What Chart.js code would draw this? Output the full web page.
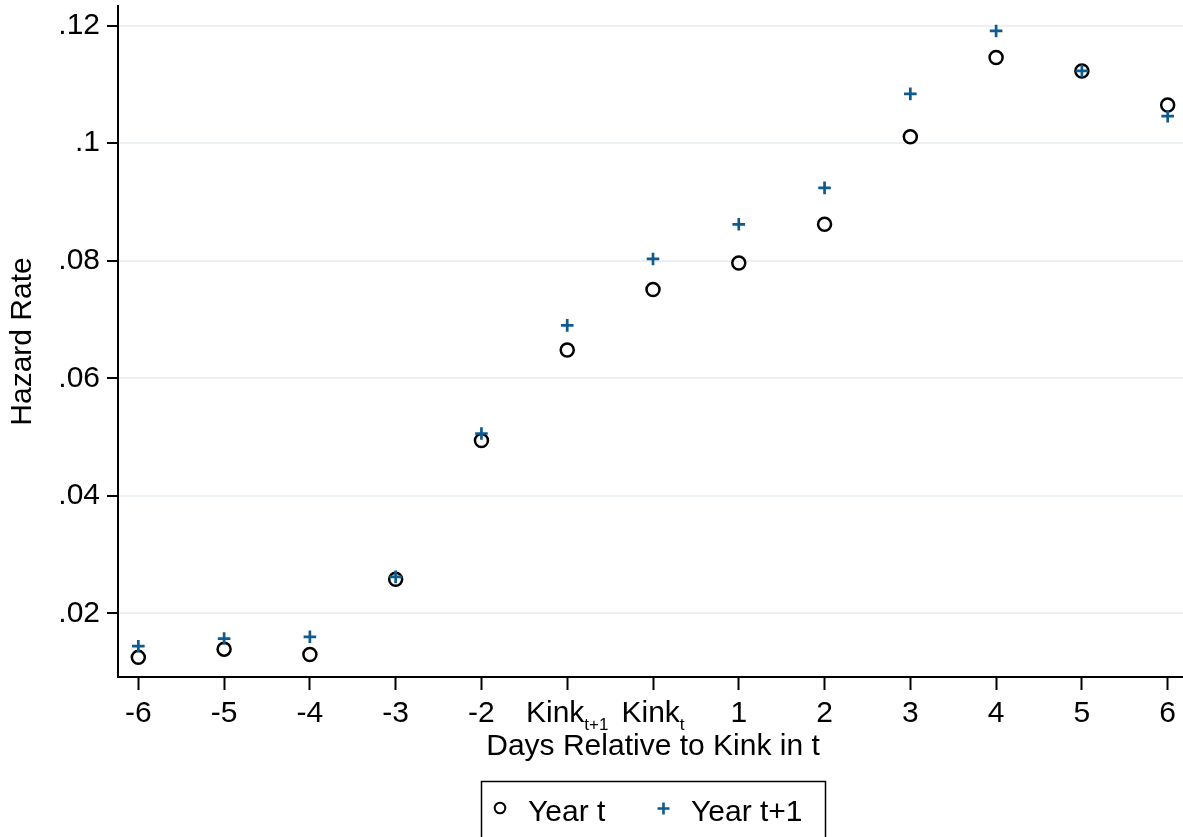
<!DOCTYPE html>
<html>
<head>
<meta charset="utf-8">
<script src="https://cdn.jsdelivr.net/npm/chart.js@4"></script>
<style>
    body { margin: 0; background: #fff; overflow: hidden; }
    #wrap { width: 1190px; height: 837px; }
</style>
</head>
<body>
<div id="wrap"><canvas id="hazardChart" width="1190" height="837"></canvas></div>
<script>
// --- DATA ---
const categories = ['-6', '-5', '-4', '-3', '-2', 'Kink_{t+1}', 'Kink_{t}', '1', '2', '3', '4', '5', '6'];
const yearT  = [0.0125, 0.0139, 0.0130, 0.0258, 0.0494, 0.0648, 0.0751, 0.0796, 0.0862, 0.1011, 0.1146, 0.1123, 0.1065];
const yearT1 = [0.0144, 0.0157, 0.0160, 0.0262, 0.0506, 0.0690, 0.0803, 0.0862, 0.0924, 0.1084, 0.1191, 0.1123, 0.1046];
const yTicks = [0.02, 0.04, 0.06, 0.08, 0.10, 0.12];

const FONT = '"Liberation Sans", Arial, Helvetica, sans-serif';
const PLUS_COLOR = '#0f5b8e';

// --- x tick labels, with subscripts for the kink labels ---
const xLabelsPlugin = {
    id: 'xLabels',
    afterDraw(chart) {
        const ctx = chart.ctx;
        const xs = chart.scales.x;
        ctx.save();
        ctx.fillStyle = '#000';
        ctx.textBaseline = 'alphabetic';
        ctx.textAlign = 'left';
        categories.forEach((label, i) => {
            const m = label.match(/^(.*)_\{(.*)\}$/);
            const main = m ? m[1] : label;
            const sub = m ? m[2] : '';
            ctx.font = '30px ' + FONT;
            const w1 = ctx.measureText(main).width;
            ctx.font = '17px ' + FONT;
            const w2 = sub ? ctx.measureText(sub).width : 0;
            const start = xs.getPixelForValue(i) - (w1 + w2) / 2;
            ctx.font = '30px ' + FONT;
            ctx.fillText(main, start, 722);
            if (sub) {
                ctx.font = '17px ' + FONT;
                ctx.fillText(sub, start + w1, 730);
            }
        });
        ctx.restore();
    }
};

// --- boxed legend under the axis title ---
const boxLegendPlugin = {
    id: 'boxLegend',
    afterDraw(chart) {
        const ctx = chart.ctx;
        const ds = chart.data.datasets;
        ctx.save();
        ctx.strokeStyle = '#000';
        ctx.lineWidth = 1.5;
        ctx.strokeRect(481.5, 781.5, 344, 120);

        // circle marker
        ctx.lineWidth = 2;
        ctx.strokeStyle = ds[1].borderColor;
        ctx.beginPath();
        ctx.arc(500, 808, 5.3, 0, Math.PI * 2);
        ctx.stroke();

        // plus marker
        ctx.strokeStyle = ds[0].borderColor;
        ctx.lineWidth = 2.6;
        ctx.beginPath();
        ctx.moveTo(663.5 - 6, 808.5); ctx.lineTo(663.5 + 6, 808.5);
        ctx.moveTo(663.5, 808.5 - 6); ctx.lineTo(663.5, 808.5 + 6);
        ctx.stroke();

        ctx.fillStyle = '#000';
        ctx.font = '30px ' + FONT;
        ctx.textBaseline = 'alphabetic';
        ctx.fillText(ds[1].label, 528, 821);
        ctx.fillText(ds[0].label, 691, 821);
        ctx.restore();
    }
};

const ctx = document.getElementById('hazardChart').getContext('2d');
new Chart(ctx, {
    type: 'scatter',
    data: {
        datasets: [
            {
                label: 'Year t+1',
                data: yearT1.map((v, i) => ({ x: i, y: v })),
                pointStyle: 'cross',
                pointRadius: 6.3,
                pointBorderWidth: 2.7,
                borderColor: PLUS_COLOR,
                backgroundColor: PLUS_COLOR,
                order: 0
            },
            {
                label: 'Year t',
                data: yearT.map((v, i) => ({ x: i, y: v })),
                pointStyle: 'circle',
                pointRadius: 6.5,
                pointBorderWidth: 2.5,
                borderColor: '#000',
                backgroundColor: 'rgba(0,0,0,0)',
                order: 1
            }
        ]
    },
    options: {
        responsive: false,
        animation: false,
        events: [],
        layout: { autoPadding: false, padding: { top: 6, left: 0, right: 2, bottom: 0 } },
        plugins: { legend: { display: false }, tooltip: { enabled: false } },
        scales: {
            x: {
                type: 'linear',
                min: -0.237,
                max: 12.237,
                afterBuildTicks: s => { s.ticks = categories.map((c, i) => ({ value: i })); },
                afterFit: s => { s.height = 160; s.paddingLeft = 0; s.paddingRight = 0; },
                ticks: { callback: () => '', font: { size: 30, family: FONT } },
                grid: { drawOnChartArea: false, drawTicks: true, tickLength: 13, tickColor: '#000', tickWidth: 2 },
                border: { color: '#000', width: 2 },
                title: {
                    display: true,
                    text: 'Days Relative to Kink in t',
                    color: '#000',
                    font: { size: 30, family: FONT, lineHeight: 1.2 },
                    padding: { top: 0, bottom: 72.7 }
                }
            },
            y: {
                min: 0.00916,
                max: 0.12335,
                afterBuildTicks: s => { s.ticks = yTicks.map(v => ({ value: v })); },
                afterFit: s => { s.width = 118; s.paddingTop = 0; s.paddingBottom = 0; },
                ticks: {
                    color: '#000',
                    padding: 7,
                    font: { size: 30, family: FONT },
                    callback: v => String(+v.toFixed(2)).replace(/^0\./, '.')
                },
                grid: { color: '#eaf0f3', lineWidth: 2, tickLength: 11, tickColor: '#000', tickWidth: 2 },
                border: { color: '#000', width: 2 },
                title: {
                    display: true,
                    text: 'Hazard Rate',
                    color: '#000',
                    font: { size: 30, family: FONT, lineHeight: 1.2 },
                    padding: { top: 4.6, bottom: 0 }
                }
            }
        }
    },
    plugins: [xLabelsPlugin, boxLegendPlugin]
});
</script>
</body>
</html>
